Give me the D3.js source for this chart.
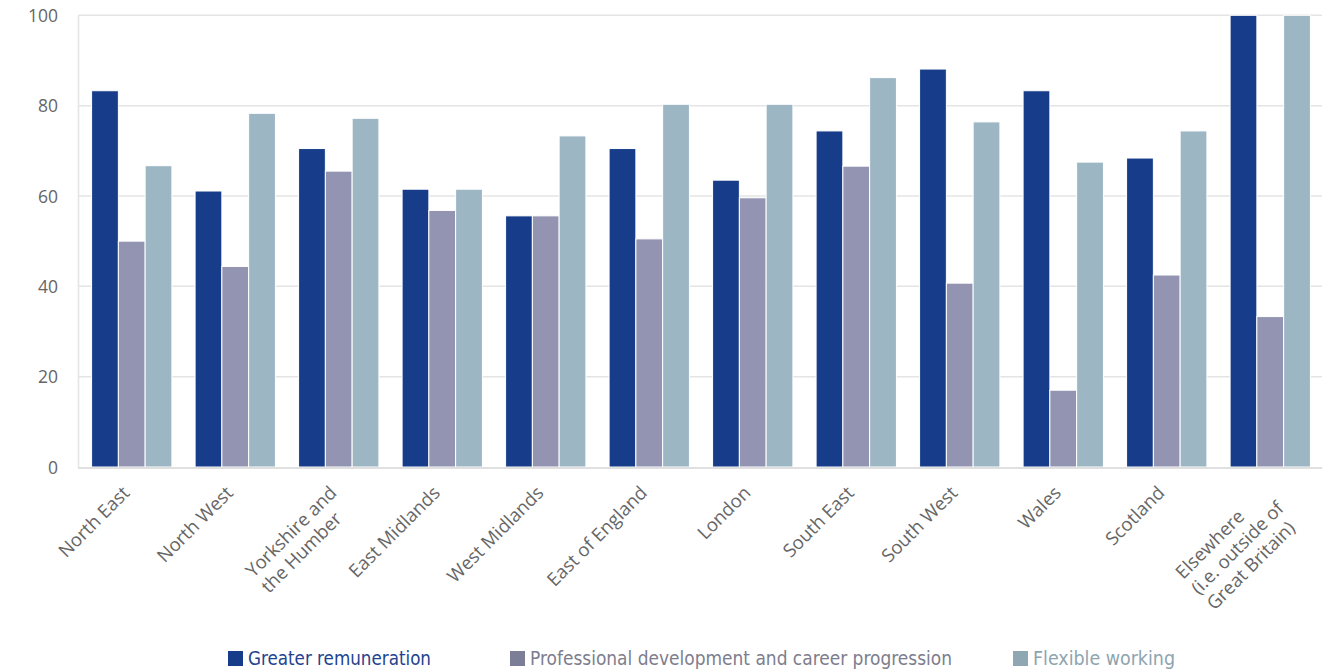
<!DOCTYPE html>
<html><head><meta charset="utf-8">
<script src="https://cdn.jsdelivr.net/npm/d3@7"></script>
<style>
html,body{margin:0;padding:0;background:#fff;}
svg{display:block;}
</style></head>
<body>
<svg id="chart" width="1332" height="672"></svg>
<script>
const categories = ["North East","North West","Yorkshire and\nthe Humber","East Midlands","West Midlands","East of England","London","South East","South West","Wales","Scotland","Elsewhere\n(i.e. outside of\nGreat Britain)"];
const seriesNames = ["Greater remuneration","Professional development and career progression","Flexible working"];
const remuneration = [83.3, 61.1, 70.5, 61.5, 55.6, 70.5, 63.5, 74.4, 88.1, 83.3, 68.4, 100];
const professional = [50.0, 44.4, 65.5, 56.8, 55.6, 50.5, 59.6, 66.6, 40.7, 17.0, 42.5, 33.3];
const flexible = [66.7, 78.3, 77.2, 61.5, 73.3, 80.3, 80.3, 86.2, 76.4, 67.5, 74.4, 100];
const yTicks = [0, 20, 40, 60, 80, 100];

const colors = ["#173c89", "#9294b1", "#9cb6c4"];
const legendSwatch = ["#173c89", "#7c7d97", "#8fa7b2"];
const legendText = ["#24438f", "#7d7d8d", "#8ea4af"];

const svg = d3.select("#chart");
const mLeft = 78, mRight = 1322, mTop = 15.3, mBottom = 467;
const y = d3.scaleLinear().domain([0, 100]).range([mBottom, mTop]);
const x0 = d3.scaleBand().domain(categories).range([80, 1322]).paddingInner(0.224).paddingOuter(0.112);
const x1 = d3.scaleBand().domain([0,1,2]).range([0, x0.bandwidth()]);
const data = [remuneration, professional, flexible];

// gridlines
svg.append("g").selectAll("line").data(yTicks.filter(d => d > 0)).join("line")
  .attr("x1", mLeft).attr("x2", mRight)
  .attr("y1", d => y(d)).attr("y2", d => y(d))
  .attr("stroke", "#e4e4e4").attr("stroke-width", 1.5);

// y axis
const yAxis = svg.append("g").attr("transform", `translate(${mLeft},0)`)
  .call(d3.axisLeft(y).tickValues(yTicks).tickSize(0).tickPadding(20));
yAxis.select(".domain").attr("stroke", "#e4e4e4").attr("stroke-width", 1.5);
yAxis.selectAll("text").attr("font-family", "'Open Sans', Lato, sans-serif")
  .attr("font-size", 17.5).attr("fill", "#666").attr("dy", "0.35em");

// bars
const groups = svg.append("g").selectAll("g").data(categories).join("g")
  .attr("transform", d => `translate(${x0(d)},0)`);
groups.selectAll("rect").data((d, i) => data.map((s, k) => ({k, v: s[i]}))).join("rect")
  .attr("x", d => x1(d.k)).attr("width", x1.bandwidth())
  .attr("y", d => y(d.v)).attr("height", d => y(0) - y(d.v))
  .attr("fill", d => colors[d.k]).attr("stroke", "#fff").attr("stroke-width", 1);

// bottom axis line
svg.append("line").attr("x1", mLeft).attr("x2", mRight).attr("y1", mBottom + 1).attr("y2", mBottom + 1)
  .attr("stroke", "#e0e0e0").attr("stroke-width", 2);

// x labels
const lh = 22;
const xl = svg.append("g").selectAll("g").data(categories).join("g")
  .attr("transform", d => `translate(${x0(d) + x0.bandwidth()/2 - 1},${mBottom + 27}) rotate(-45)`);
xl.each(function(d) {
  const g = d3.select(this);
  const lines = d.split("\n");
  const ts = lines.map((l, i) => g.append("text").text(l)
    .attr("y", i * lh)
    .attr("font-family", "'Open Sans', Lato, sans-serif").attr("font-size", 18.5)
    .attr("fill", "#666").attr("text-anchor", "start"));
  const W = d3.max(ts, t => t.node().getComputedTextLength());
  ts.forEach(t => t.attr("x", -W));
});

// legend
const legendX = [228, 510, 1013];
const legendW = [183, 422, 142];
const lg = svg.append("g").selectAll("g").data(seriesNames).join("g");
lg.append("rect").attr("x", (d, i) => legendX[i]).attr("y", 651).attr("width", 15).attr("height", 15)
  .attr("fill", (d, i) => legendSwatch[i]);
lg.append("text").attr("x", (d, i) => legendX[i] + 20).attr("y", 665)
  .attr("font-family", "'Liberation Sans Narrow', 'DejaVu Sans Condensed', sans-serif")
  .attr("font-stretch", "condensed")
  .attr("font-size", 19).attr("fill", (d, i) => legendText[i])
  .attr("textLength", (d, i) => legendW[i]).attr("lengthAdjust", "spacingAndGlyphs")
  .text(d => d);
</script>
</body></html>
